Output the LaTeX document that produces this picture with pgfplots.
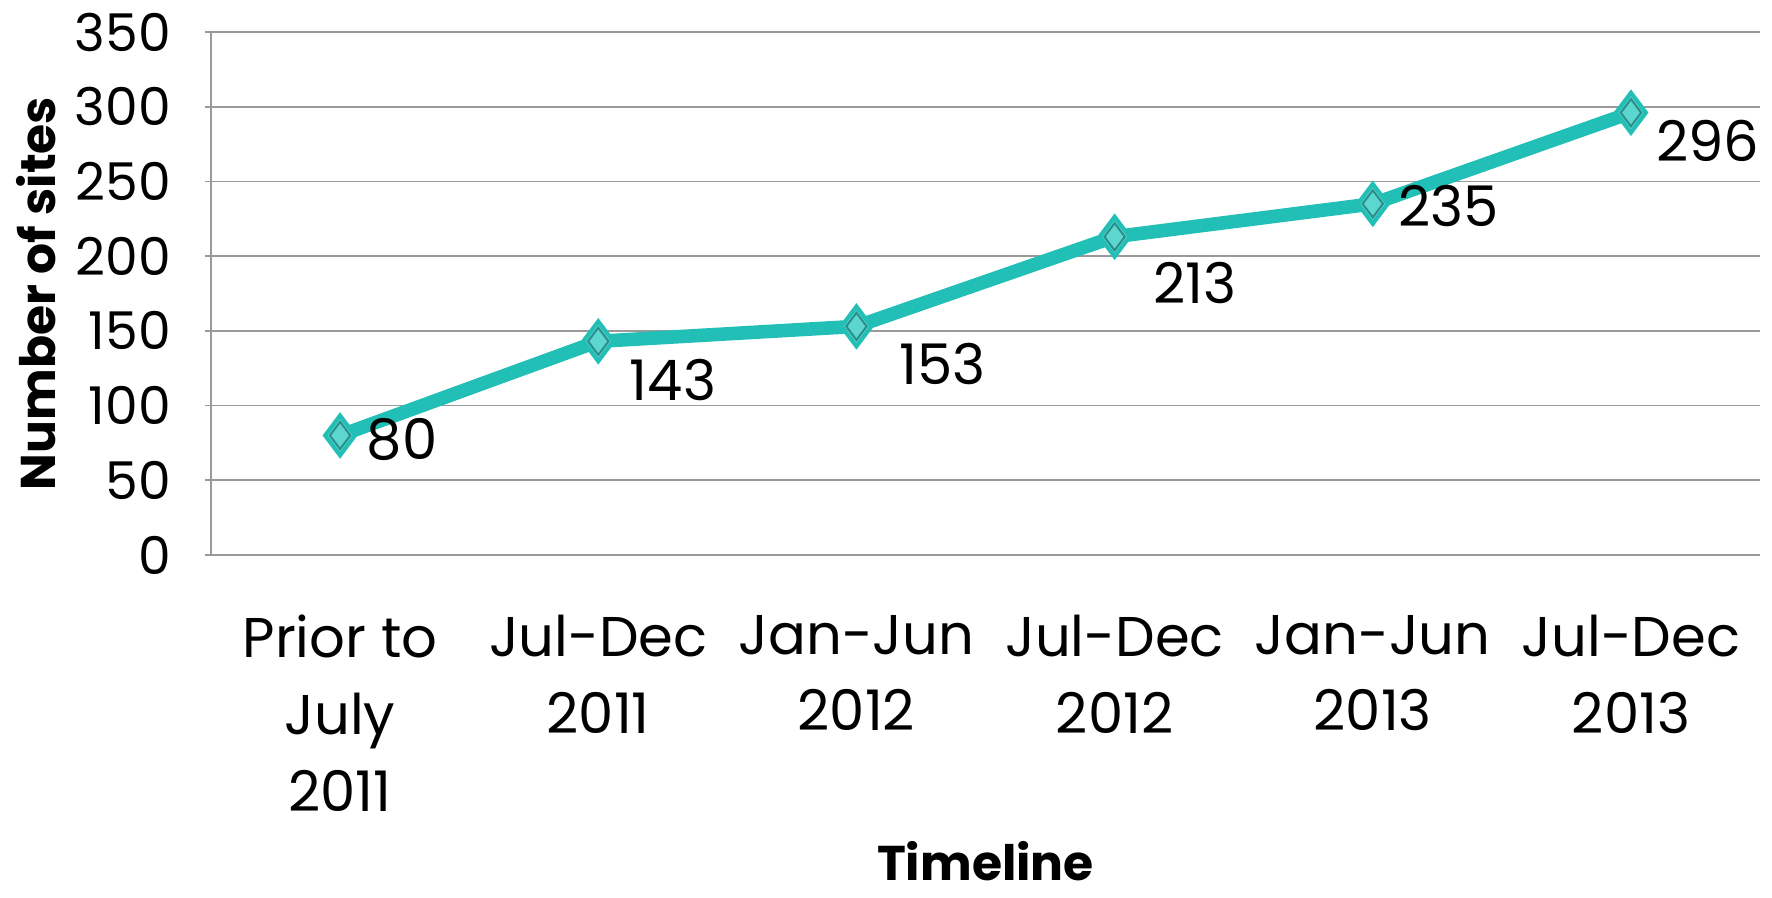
\documentclass[border=0pt]{standalone}
\usepackage{pgfplots}
\pgfplotsset{compat=1.18}
\usepackage{fontspec}
\setmainfont{Poppins}
\definecolor{lineteal}{HTML}{22BFB6}
\definecolor{markfill}{HTML}{5DD6CF}
\definecolor{markdark}{HTML}{2A8F89}
\definecolor{gridgray}{HTML}{9A9A9A}
\pgfplotstableread{
x y dx dy
0 80 15.5 -0.9
1 143 18.7 -9.6
2 153 21.5 -9.3
3 213 20 -11.6
4 235 19 -0.6
5 296 19.2 -7
}\datatab
\begin{document}
\begin{tikzpicture}
\path[use as bounding box] (0,0) rectangle (443pt,224.25pt);
\begin{axis}[
  at={(52.75pt,85.5pt)}, anchor=south west,
  scale only axis, width=387.25pt, height=130.75pt,
  xmin=-0.5, xmax=5.5, ymin=0, ymax=350,
  ytick={0,50,...,350},
  xtick={0,...,5},
  xticklabels={{Prior to\\July\\2011},{Jul-Dec\\2011},{Jan-Jun\\2012},{Jul-Dec\\2012},{Jan-Jun\\2013},{Jul-Dec\\2013}},
  axis x line=bottom, axis y line=left,
  axis line style={-, draw=gridgray, line width=0.45pt},
  ymajorgrids, grid style={draw=gridgray, line width=0.45pt},
  tick align=outside,
  major tick length=1.5pt,
  xtick style={draw=none},
  ytick style={draw=gridgray, line width=0.45pt},
  /pgf/number format/assume math mode=true,
  yticklabel style={font=\fontsize{13}{15}\selectfont, xshift=-5pt},
  xticklabel style={font=\fontsize{14}{19.2}\selectfont, align=center, yshift=-10pt},
  ylabel={Number of sites}, xlabel={Timeline},
  ylabel style={at={(axis description cs:-0.113,0.5)}, anchor=center, font=\fontsize{12.2}{15}\selectfont\bfseries},
  xlabel style={at={(axis description cs:0.5,-0.585)}, anchor=center, inner sep=0pt, font=\fontsize{12.2}{15}\selectfont\bfseries},
  clip=false,
]
\addplot[color=lineteal, line width=3.4pt, mark=diamond*, mark size=5pt,
  mark options={fill=markfill, draw=lineteal, line width=1pt},
  nodes near coords, point meta=explicit symbolic,
  visualization depends on={\thisrow{dx}\as\dx},
  visualization depends on={\thisrow{dy}\as\dy},
  every node near coord/.append style={anchor=center, xshift=\dx pt, yshift=\dy pt, font=\fontsize{14}{15}\selectfont, text=black}]
  table[x=x, y=y, meta=y]{\datatab};
\addplot[only marks, mark=diamond*, mark size=3.4pt,
  mark options={fill=markfill, draw=markdark, line width=0.5pt}]
  table[x=x, y=y]{\datatab};
\end{axis}
\end{tikzpicture}
\end{document}
